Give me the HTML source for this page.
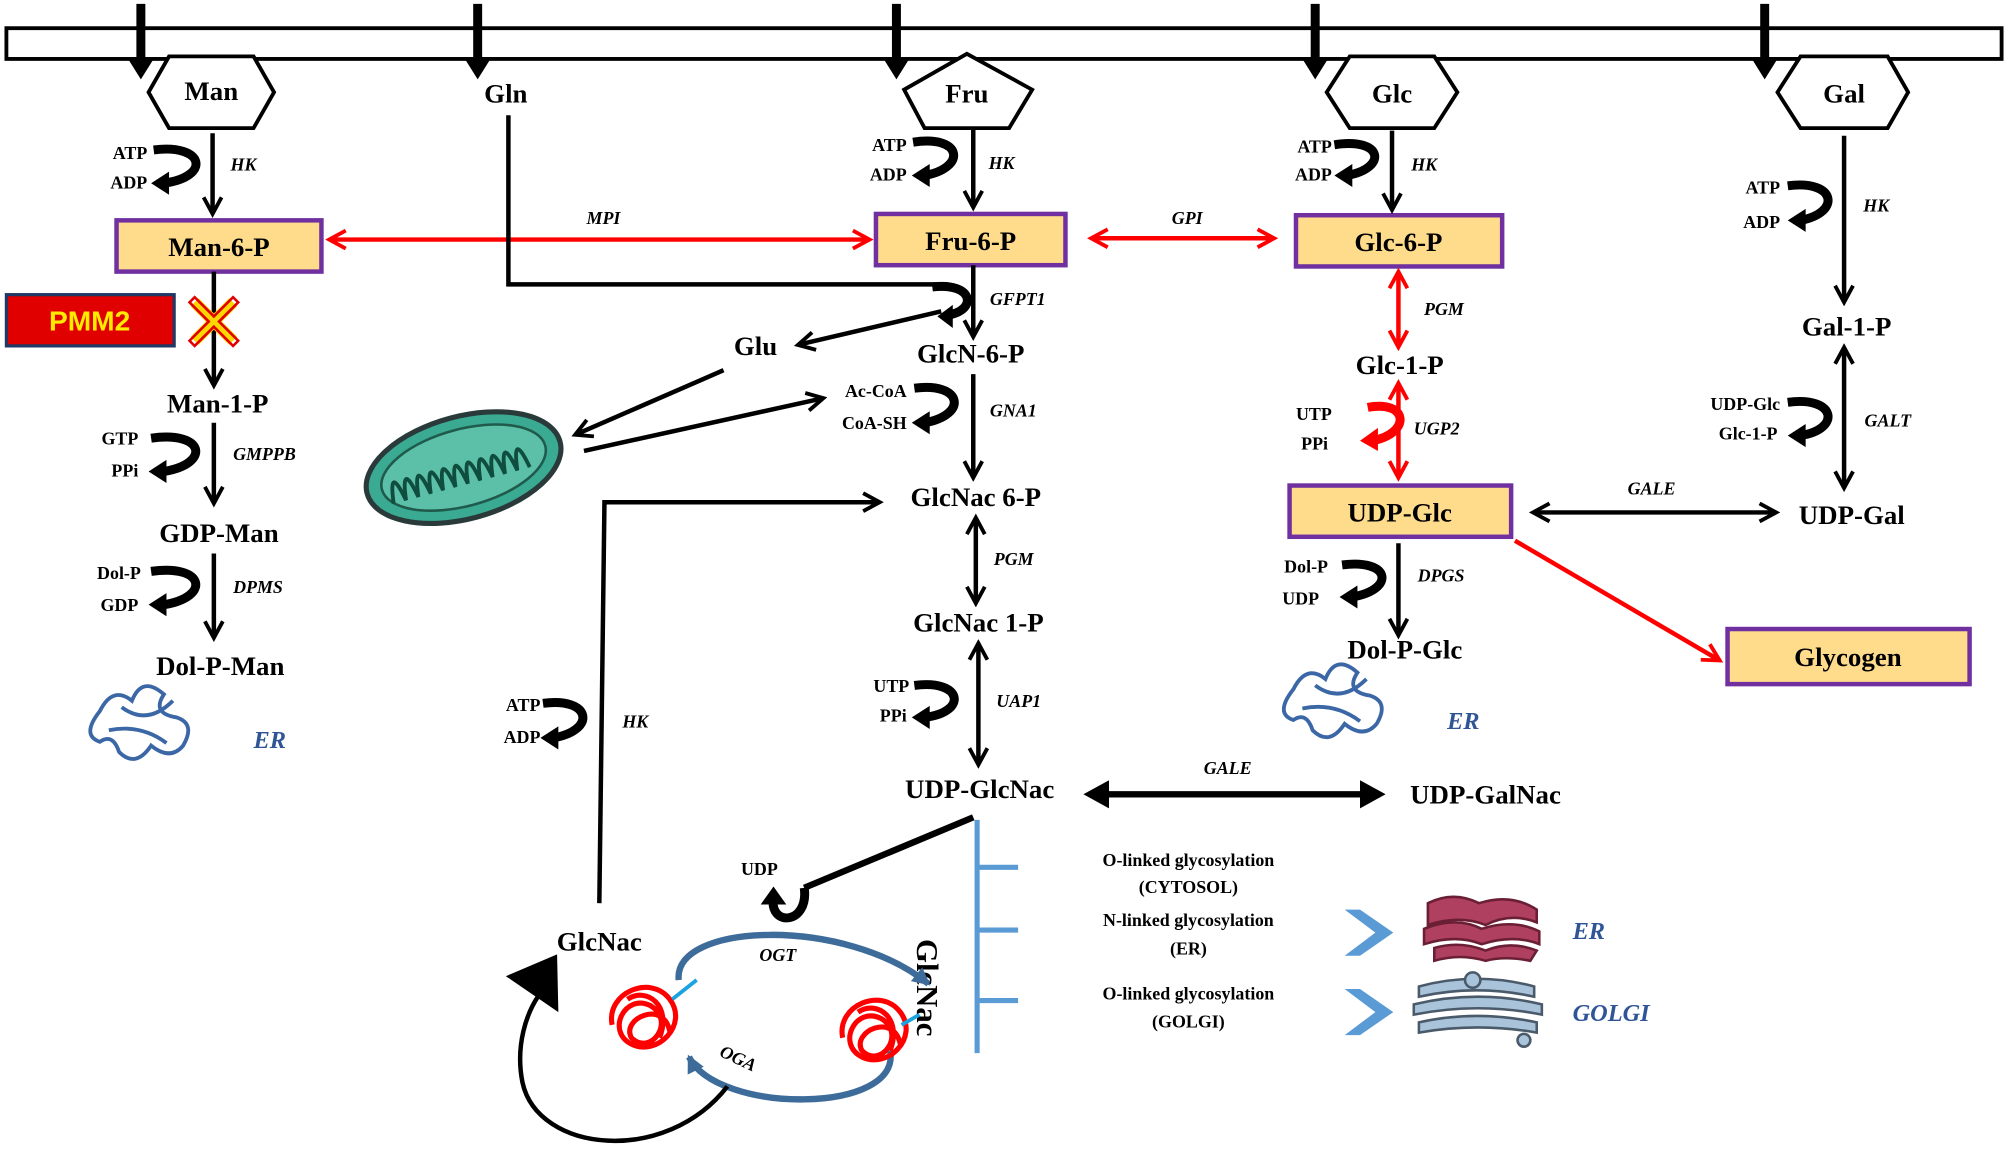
<!DOCTYPE html>
<html><head><meta charset="utf-8"><style>
html,body{margin:0;padding:0;background:#fff;}
svg{display:block;}
text{font-family:"Liberation Serif",serif;font-weight:bold;fill:#000;}
.m{font-size:21px;text-anchor:middle;}
.s{font-size:14px;text-anchor:end;}
.e{font-size:14px;font-style:italic;}
.g{font-size:14px;text-anchor:middle;}
.bl{fill:#2F5597;font-style:italic;font-size:19px;}
</style></head><body>
<svg width="2008" height="1153" viewBox="0 0 1568 900" preserveAspectRatio="none" xmlns="http://www.w3.org/2000/svg">
<defs>
<marker id="ab" markerUnits="userSpaceOnUse" markerWidth="18" markerHeight="18" refX="14" refY="9" orient="auto-start-reverse"><path d="M2,2 L15,9 L2,16" fill="none" stroke="#000" stroke-width="3"/></marker>
<marker id="ar" markerUnits="userSpaceOnUse" markerWidth="18" markerHeight="18" refX="14" refY="9" orient="auto-start-reverse"><path d="M2,2 L15,9 L2,16" fill="none" stroke="#f00" stroke-width="3"/></marker>
<marker id="abl" markerUnits="userSpaceOnUse" markerWidth="18" markerHeight="18" refX="12" refY="9" orient="auto"><path d="M0,2 L14,9 L0,16 Z" fill="#3E6C9A"/></marker>
</defs>
<rect x="5" y="22" width="1558" height="24" fill="#fff" stroke="#000" stroke-width="3"/>
<g stroke="#000" stroke-width="7">
<line x1="110" y1="3" x2="110" y2="50"/><line x1="373" y1="3" x2="373" y2="50"/><line x1="700" y1="3" x2="700" y2="50"/><line x1="1027" y1="3" x2="1027" y2="50"/><line x1="1378" y1="3" x2="1378" y2="50"/>
</g>
<g fill="#000">
<path d="M100,46 L120,46 L110,62Z"/><path d="M363,46 L383,46 L373,62Z"/><path d="M690,46 L710,46 L700,62Z"/><path d="M1017,46 L1037,46 L1027,62Z"/><path d="M1368,46 L1388,46 L1378,62Z"/>
</g>
<polygon points="132,44 198,44 214,72 198,100 132,100 116,72" fill="#fff" stroke="#000" stroke-width="3"/>
<text class="m" x="165" y="78">Man</text>
<text class="m" x="395" y="80">Gln</text>
<polygon points="755,42 806,70 788,100 722,100 706,70" fill="#fff" stroke="#000" stroke-width="3"/>
<text class="m" x="755" y="80">Fru</text>
<polygon points="1054,44 1120,44 1138,72 1120,100 1054,100 1036,72" fill="#fff" stroke="#000" stroke-width="3"/>
<text class="m" x="1087" y="80">Glc</text>
<polygon points="1406,44 1474,44 1490,72 1474,100 1406,100 1388,72" fill="#fff" stroke="#000" stroke-width="3"/>
<text class="m" x="1440" y="80">Gal</text>

<g fill="#FFDC8C" stroke="#7030A0" stroke-width="3.5">
<rect x="91" y="172" width="160" height="40"/><rect x="684" y="167" width="148" height="40"/><rect x="1012" y="168" width="161" height="40"/><rect x="1007" y="379" width="173" height="40"/><rect x="1349" y="491" width="189" height="43"/>
</g>
<text class="m" x="171" y="200">Man-6-P</text>
<text class="m" x="758" y="195">Fru-6-P</text>
<text class="m" x="1092" y="196">Glc-6-P</text>
<text class="m" x="1093" y="407">UDP-Glc</text>
<text class="m" x="1443" y="520">Glycogen</text>
<rect x="5" y="230" width="131" height="40" fill="#E00000" stroke="#1F3864" stroke-width="2.5"/>
<text x="70" y="258" style="font-family:'Liberation Sans',sans-serif;font-size:22px;fill:#FFEB00;text-anchor:middle">PMM2</text>

<g stroke="#f00" stroke-width="3.5" fill="none">
<line x1="258" y1="187" x2="678" y2="187" marker-start="url(#ar)" marker-end="url(#ar)"/>
<line x1="853" y1="186" x2="994" y2="186" marker-start="url(#ar)" marker-end="url(#ar)"/>
<line x1="1092" y1="213" x2="1092" y2="270" marker-start="url(#ar)" marker-end="url(#ar)"/>
<line x1="1092" y1="300" x2="1092" y2="372" marker-start="url(#ar)" marker-end="url(#ar)"/>
<line x1="1183" y1="422" x2="1342" y2="515" marker-end="url(#ar)"/>
</g>
<path d="M1068,318 C1100,312 1102,338 1072,344" stroke="#f00" stroke-width="7" fill="none"/>
<path d="M1062,344 L1076,334 L1076,352Z" fill="#f00"/>
<text class="e" x="458" y="175">MPI</text>
<text class="e" x="915" y="175">GPI</text>
<text class="e" x="1112" y="246">PGM</text>
<text class="e" x="1104" y="339">UGP2</text>

<g stroke="#000" stroke-width="3.5" fill="none">
<line x1="166" y1="104" x2="166" y2="166" marker-end="url(#ab)"/>
<line x1="167" y1="212" x2="167" y2="300" marker-end="url(#ab)"/>
<line x1="167" y1="330" x2="167" y2="392" marker-end="url(#ab)"/>
<line x1="167" y1="432" x2="167" y2="497" marker-end="url(#ab)"/>
<line x1="760" y1="100" x2="760" y2="161" marker-end="url(#ab)"/>
<line x1="760" y1="207" x2="760" y2="262" marker-end="url(#ab)"/>
<polyline points="397,90 397,222 740,222"/>
<line x1="735" y1="243" x2="624" y2="269" marker-end="url(#ab)"/>
<line x1="760" y1="292" x2="760" y2="372" marker-end="url(#ab)"/>
<line x1="762" y1="405" x2="762" y2="470" marker-start="url(#ab)" marker-end="url(#ab)"/>
<line x1="764" y1="503" x2="764" y2="596" marker-start="url(#ab)" marker-end="url(#ab)"/>
<line x1="565" y1="289" x2="450" y2="339" marker-end="url(#ab)"/>
<line x1="456" y1="352" x2="642" y2="311" marker-end="url(#ab)"/>
<line x1="1087" y1="102" x2="1087" y2="163" marker-end="url(#ab)"/>
<line x1="1092" y1="424" x2="1092" y2="495" marker-end="url(#ab)"/>
<line x1="1440" y1="106" x2="1440" y2="235" marker-end="url(#ab)"/>
<line x1="1440" y1="272" x2="1440" y2="380" marker-start="url(#ab)" marker-end="url(#ab)"/>
<line x1="1198" y1="400" x2="1386" y2="400" marker-start="url(#ab)" marker-end="url(#ab)"/>
<polyline points="468,705 472,392 686,392" marker-end="url(#ab)"/>
</g>
<g stroke="#000" stroke-width="5">
<line x1="852" y1="620" x2="1076" y2="620"/>
</g>
<path d="M846,620 L866,609 L866,631Z M1082,620 L1062,609 L1062,631Z" fill="#000"/>
<path d="M760,638 L628,693" stroke="#000" stroke-width="5" fill="none"/>

<g stroke="#000" stroke-width="7" fill="none">
<path d="M120,117 C160,112 165,138 128,143"/>
<path d="M118,342 C160,336 165,362 128,368"/>
<path d="M118,446 C160,440 165,466 128,472"/>
<path d="M713,111 C752,105 755,131 722,137"/>
<path d="M728,224 C760,220 764,242 740,246"/>
<path d="M714,303 C752,298 756,324 722,330"/>
<path d="M1042,113 C1080,107 1084,131 1052,137"/>
<path d="M1048,441 C1086,436 1090,460 1056,466"/>
<path d="M1396,145 C1434,140 1438,166 1406,172"/>
<path d="M1396,314 C1434,309 1438,335 1406,340"/>
<path d="M424,549 C462,544 466,570 432,576"/>
<path d="M714,535 C752,530 756,556 722,560"/>
<path d="M628,693 C632,722 600,724 604,700"/>
</g>
<g fill="#000">
<path d="M118,143 L132,134 L132,152Z"/><path d="M116,368 L130,359 L130,377Z"/><path d="M116,472 L130,463 L130,481Z"/>
<path d="M712,137 L726,128 L726,146Z"/><path d="M732,247 L744,238 L744,256Z"/><path d="M712,330 L726,321 L726,339Z"/>
<path d="M1042,137 L1056,128 L1056,146Z"/><path d="M1046,466 L1060,457 L1060,475Z"/><path d="M1396,172 L1410,163 L1410,181Z"/>
<path d="M1396,340 L1410,331 L1410,349Z"/><path d="M422,576 L436,567 L436,585Z"/><path d="M712,560 L726,551 L726,569Z"/>
<path d="M604,692 L594,706 L614,706Z"/>
</g>
<g stroke="#FFD700" stroke-width="9"><line x1="152" y1="236" x2="182" y2="266"/><line x1="182" y1="236" x2="152" y2="266"/></g>
<g stroke="#E00000" stroke-width="2" fill="none"><path d="M148,236 l4,-4 l15,15 l15,-15 l4,4 l-15,15 l15,15 l-4,4 l-15,-15 l-15,15 l-4,-4 l15,-15z"/></g>

<text class="s" x="115" y="124">ATP</text><text class="s" x="115" y="147">ADP</text><text class="e" x="180" y="133">HK</text>
<text class="m" x="170" y="322">Man-1-P</text>
<text class="s" x="108" y="347">GTP</text><text class="s" x="108" y="372">PPi</text><text class="e" x="182" y="359">GMPPB</text>
<text class="m" x="171" y="423">GDP-Man</text>
<text class="s" x="110" y="452">Dol-P</text><text class="s" x="108" y="477">GDP</text><text class="e" x="182" y="463">DPMS</text>
<text class="m" x="172" y="527">Dol-P-Man</text>
<text class="bl" x="198" y="584">ER</text>
<text class="s" x="708" y="118">ATP</text><text class="s" x="708" y="141">ADP</text><text class="e" x="772" y="132">HK</text>
<text class="e" x="773" y="238">GFPT1</text>
<text class="m" x="590" y="277">Glu</text>
<text class="m" x="758" y="283">GlcN-6-P</text>
<text class="s" x="708" y="310">Ac-CoA</text><text class="s" x="708" y="335">CoA-SH</text><text class="e" x="773" y="325">GNA1</text>
<text class="m" x="762" y="395">GlcNac 6-P</text>
<text class="e" x="776" y="441">PGM</text>
<text class="m" x="764" y="493">GlcNac 1-P</text>
<text class="s" x="710" y="540">UTP</text><text class="s" x="708" y="563">PPi</text><text class="e" x="778" y="552">UAP1</text>
<text class="m" x="765" y="623">UDP-GlcNac</text>
<text class="e" x="940" y="604">GALE</text>
<text class="m" x="1160" y="627">UDP-GalNac</text>
<text class="s" x="1040" y="119">ATP</text><text class="s" x="1040" y="141">ADP</text><text class="e" x="1102" y="133">HK</text>
<text class="m" x="1093" y="292">Glc-1-P</text>
<text class="s" x="1040" y="328">UTP</text><text class="s" x="1037" y="351">PPi</text>
<text class="s" x="1037" y="447">Dol-P</text><text class="s" x="1030" y="472">UDP</text><text class="e" x="1107" y="454">DPGS</text>
<text class="m" x="1097" y="514">Dol-P-Glc</text>
<text class="bl" x="1130" y="569">ER</text>
<text class="s" x="1390" y="151">ATP</text><text class="s" x="1390" y="178">ADP</text><text class="e" x="1455" y="165">HK</text>
<text class="m" x="1442" y="262">Gal-1-P</text>
<text class="s" x="1390" y="320">UDP-Glc</text><text class="s" x="1388" y="343">Glc-1-P</text><text class="e" x="1456" y="333">GALT</text>
<text class="e" x="1271" y="386">GALE</text>
<text class="m" x="1446" y="409">UDP-Gal</text>
<text class="s" x="422" y="555">ATP</text><text class="s" x="422" y="580">ADP</text><text class="e" x="486" y="568">HK</text>
<text class="m" x="468" y="742">GlcNac</text>
<text class="g" x="593" y="683">UDP</text>
<text class="e" x="593" y="750">OGT</text>
<text class="e" x="562" y="830" transform="rotate(25 575 825)">OGA</text>
<text x="0" y="0" transform="translate(716,733) rotate(90)" style="font-size:24px">GlcNac</text>

<g transform="rotate(-15 362 365)">
<ellipse cx="362" cy="365" rx="78" ry="40" fill="#3BAA92" stroke="#2a3a3a" stroke-width="4"/>
<ellipse cx="362" cy="365" rx="66" ry="30" fill="#5CC0A8" stroke="#1f5a4c" stroke-width="2"/>
<path d="M302,378 q4,-32 10,0 q4,-32 10,0 q4,-32 10,0 q4,-32 10,0 q4,-32 10,0 q4,-32 10,0 q4,-32 10,0 q4,-32 10,0 q4,-32 10,0 q4,-32 10,0 q4,-32 10,0" fill="none" stroke="#0f4d3f" stroke-width="3"/>
</g>
<path d="M78,555 q10,-20 25,-8 q8,-20 25,-5 q-10,15 10,18 q15,5 5,22 q-10,12 -25,0 q-12,18 -25,5 q-5,-15 -15,-8 q-15,-5 0,-24z M95,552 q20,15 40,-5 M85,570 q25,-5 45,10" fill="none" stroke="#3b67a6" stroke-width="3"/>
<path d="M1010,538 q10,-20 25,-8 q8,-20 25,-5 q-10,15 10,18 q15,5 5,22 q-10,12 -25,0 q-12,18 -25,5 q-5,-15 -15,-8 q-15,-5 0,-24z M1027,535 q20,15 40,-5 M1017,553 q25,-5 45,10" fill="none" stroke="#3b67a6" stroke-width="3"/>

<path d="M530,765 C525,720 660,715 725,768" fill="none" stroke="#3E6C9A" stroke-width="5" marker-end="url(#abl)"/>
<path d="M695,820 C705,870 560,870 538,825" fill="none" stroke="#3E6C9A" stroke-width="5" marker-end="url(#abl)"/>
<g fill="none" stroke="#f00" stroke-width="4">
<path d="M478,800 c-5,-25 30,-40 45,-20 c15,20 -10,45 -30,35 c-20,-10 -5,-40 15,-30 c20,12 0,40 -15,25 c-8,-15 25,-30 30,-5 M490,780 c15,-10 35,5 25,30"/>
<path d="M658,810 c-5,-25 30,-40 45,-20 c15,20 -10,45 -30,35 c-20,-10 -5,-40 15,-30 c20,12 0,40 -15,25 c-8,-15 25,-30 30,-5 M670,790 c15,-10 35,5 25,30"/>
</g>
<g stroke="#1BA3E0" stroke-width="3"><line x1="525" y1="780" x2="544" y2="765"/><line x1="704" y1="800" x2="718" y2="792"/></g>
<path d="M568,848 C520,910 420,900 408,845 C402,815 412,790 420,778" fill="none" stroke="#000" stroke-width="3.5"/>
<path d="M395,762 L435,745 L436,790Z" fill="#000"/>

<g stroke="#5B9BD5" stroke-width="4"><line x1="763" y1="640" x2="763" y2="822"/><line x1="763" y1="677" x2="795" y2="677"/><line x1="763" y1="726" x2="795" y2="726"/><line x1="763" y1="781" x2="795" y2="781"/></g>
<text class="g" x="928" y="676">O-linked glycosylation</text><text class="g" x="928" y="697">(CYTOSOL)</text>
<text class="g" x="928" y="723">N-linked glycosylation</text><text class="g" x="928" y="745">(ER)</text>
<text class="g" x="928" y="780">O-linked glycosylation</text><text class="g" x="928" y="802">(GOLGI)</text>
<path d="M1050,710 L1062,710 L1088,728 L1062,746 L1050,746 L1074,728Z" fill="#5B9BD5"/>
<path d="M1050,772 L1062,772 L1088,790 L1062,808 L1050,808 L1074,790Z" fill="#5B9BD5"/>
<g fill="#B04060" stroke="#6a1f35" stroke-width="2">
<path d="M1115,705 q20,-10 40,0 q25,-8 45,5 l0,10 q-20,-8 -40,2 q-20,-8 -45,0z"/>
<path d="M1112,725 q25,-10 45,0 q25,-8 45,2 l0,10 q-20,-8 -45,0 q-20,-8 -45,0z"/>
<path d="M1120,740 q20,-6 40,2 q20,-8 40,0 l-5,8 q-20,-4 -35,0 q-20,-6 -40,0z"/>
</g>
<g fill="#A9C4DA" stroke="#4a5a6a" stroke-width="2">
<path d="M1108,770 q45,-12 90,0 l0,8 q-45,-10 -90,0z"/>
<path d="M1104,784 q50,-12 100,0 l0,8 q-50,-10 -100,0z"/>
<path d="M1108,798 q45,-10 92,0 l0,8 q-46,-8 -92,0z"/>
<circle cx="1150" cy="765" r="6"/><circle cx="1190" cy="812" r="5"/>
</g>
<text class="bl" x="1228" y="733">ER</text>
<text class="bl" x="1228" y="797">GOLGI</text>
</svg>
</body></html>
